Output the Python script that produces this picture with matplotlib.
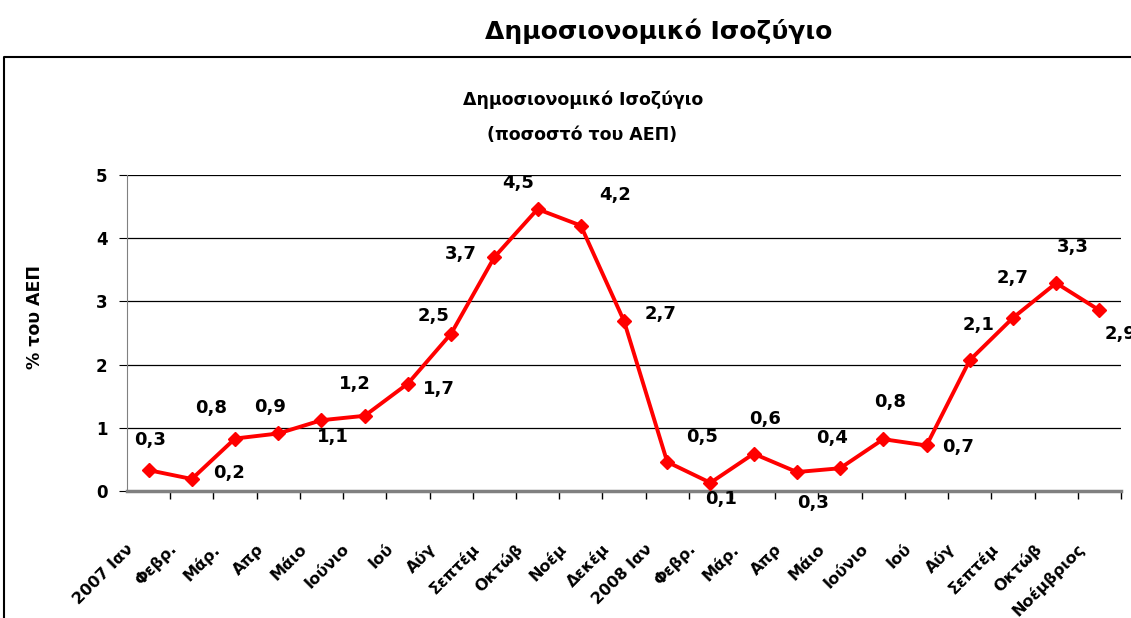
import matplotlib.pyplot as plt
from matplotlib.lines import Line2D

months = ["2007 Ιαν", "Φεβρ.", "Μάρ.", "Απρ", "Μάιο", "Ιούνιο", "Ιού", "Αύγ",
          "Σεπτέμ", "Οκτώβ", "Νοέμ", "Δεκέμ", "2008 Ιαν", "Φεβρ.", "Μάρ.", "Απρ",
          "Μάιο", "Ιούνιο", "Ιού", "Αύγ", "Σεπτέμ", "Οκτώβ", "Νοέμβριος"]
balance = [0.33, 0.19, 0.83, 0.91, 1.12, 1.19, 1.70, 2.49, 3.70, 4.46, 4.20, 2.69,
           0.46, 0.13, 0.59, 0.30, 0.36, 0.82, 0.72, 2.07, 2.74, 3.29, 2.86]

# label offsets (points) for each value label
offsets = [(1, 22), (27, 4), (-17, 22), (-6, 19), (8, -12), (-7, 23), (22, -4),
           (-13, 13), (-24, 2), (-14, 19), (25, 22), (26, 5), (25, 18), (8, -12),
           (8, 25), (12, -22), (-6, 22), (5, 27), (23, -1), (6, 25), (0, 29),
           (12, 26), (15, -17)]

fig = plt.figure(figsize=(11.31, 6.18), dpi=100)
fig.text(0.582, 0.95, "Δημοσιονομικό Ισοζύγιο", ha="center", va="center",
         fontsize=18, fontweight="bold")
fig.add_artist(Line2D([4 / 1131, 4 / 1131, 1], [0, 1 - 57 / 618, 1 - 57 / 618],
                      color="black", lw=1.5))
fig.text(0.516, 1 - 100 / 618, "Δημοσιονομικό Ισοζύγιο", ha="center", va="center",
         fontsize=12.5, fontweight="bold")
fig.text(0.515, 1 - 135 / 618, "(ποσοστό του ΑΕΠ)", ha="center", va="center",
         fontsize=12.5, fontweight="bold")

ax = fig.add_axes([127 / 1131, 1 - 491 / 618, (1121 - 127) / 1131, (491 - 175) / 618])
x = list(range(len(months)))
ax.plot(x, balance, color="#ff0000", lw=2.8, marker="D", markersize=7.5, zorder=3,
        clip_on=False)
for xi, v, off in zip(x, balance, offsets):
    ax.annotate(f"{v:.1f}".replace(".", ","), (xi, v), xytext=off,
                textcoords="offset points", ha="center", va="center",
                fontsize=13, fontweight="bold", annotation_clip=False)

ax.set_xlim(-0.5, len(months) - 0.5)
ax.set_ylim(0, 5)
ax.set_yticks(range(6))
ax.yaxis.grid(True, color="black", lw=0.9)
ax.set_axisbelow(True)
ax.set_xticks([i + 0.5 for i in x])
# category labels, nudged left like the original
ax.set_xticks([i - 0.4 for i in x], minor=True)
ax.set_xticklabels([])
ax.set_xticklabels(months, minor=True, rotation=45, ha="right", va="center",
                   rotation_mode="anchor", fontsize=11.5, fontweight="bold")
ax.tick_params(axis="x", which="major", length=6, color="black", width=1)
ax.tick_params(axis="x", which="minor", length=0, pad=40)
ax.tick_params(axis="y", length=6, color="black", labelsize=12, pad=8)
for lab in ax.get_yticklabels():
    lab.set_fontweight("bold")
ax.spines["top"].set_visible(False)
ax.spines["right"].set_visible(False)
ax.spines["left"].set_color("#808080")
ax.spines["bottom"].set_color("#808080")
ax.spines["bottom"].set_linewidth(2.5)
ax.set_ylabel("% του ΑΕΠ", fontsize=12.5, fontweight="bold")
ax.yaxis.set_label_coords(-0.0835, 0.55)

fig.savefig("out.png", dpi=100)
